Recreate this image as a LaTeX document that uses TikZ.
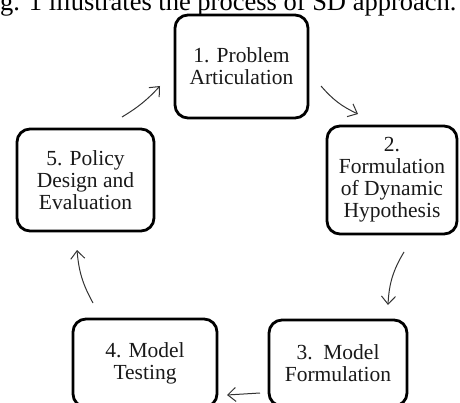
\documentclass[tikz,border=0pt]{standalone}
\usepackage{fontspec}
\setmainfont{Liberation Serif}
\usetikzlibrary{arrows.meta}
\begin{document}
\begin{tikzpicture}[x=1pt,y=-1pt,
  stage/.style={draw=black, line width=2.8pt, rounded corners=13pt,
    align=center, inner sep=0pt, text=black!90,
    font=\fontsize{21.5}{22}\selectfont},
  flow/.style={draw=black!80, line width=1pt,
    -{Straight Barb[length=8pt,width=14pt,line width=1pt]}}]
\useasboundingbox (0,0) rectangle (460,403);
\clip (0,0) rectangle (460,403);

% running text line above the figure
\node[anchor=base west, inner sep=0pt, font=\fontsize{26.5}{28}\selectfont]
  (caption) at (0,11) {g. 1 illustrates the process of SD approach.};

% the five stages
\node[stage, minimum width=133pt, minimum height=103pt] (s1) at (241.5,66.5)
  {1. Problem\\Articulation};
\node[stage, minimum width=130pt, minimum height=108pt] (s2) at (392,180)
  {2.\\Formulation\\of Dynamic\\Hypothesis};
\node[stage, minimum width=138pt, minimum height=86pt] (s3) at (338,363)
  {3.\ \ Model\\Formulation};
\node[stage, minimum width=144pt, minimum height=88pt] (s4) at (145,363)
  {4. Model\\Testing};
\node[stage, minimum width=137pt, minimum height=102pt] (s5) at (85.5,180)
  {5. Policy\\Design and\\Evaluation};

% arrow end points between the stages
\coordinate (a12) at (321,86);  \coordinate (b12) at (358,114);
\coordinate (a23) at (404,252); \coordinate (b23) at (388,305);
\coordinate (a34) at (260,393); \coordinate (b34) at (227,395);
\coordinate (a45) at (93,303);  \coordinate (b45) at (77,250);
\coordinate (a51) at (122,117); \coordinate (b51) at (160,86);

\draw[flow] (a12) to[bend right=12] (b12);
\draw[flow] (a23) to[bend right=14] (b23);
\draw[flow] (a34) -- (b34);
\draw[flow] (a45) to[bend left=12] (b45);
\draw[flow] (a51) to[bend right=8] (b51);
\end{tikzpicture}
\end{document}
